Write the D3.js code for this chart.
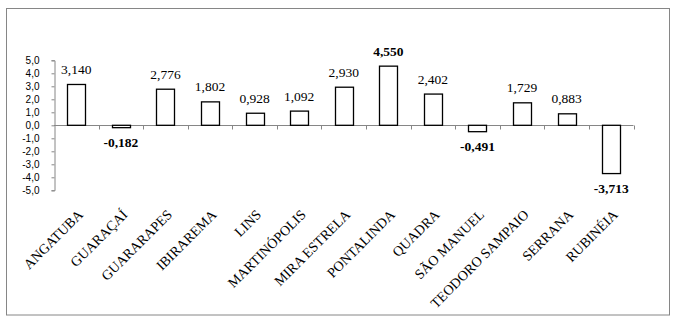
<!DOCTYPE html>
<html>
<head>
<meta charset="utf-8">
<script src="https://cdn.jsdelivr.net/npm/d3@7"></script>
<style>
  html, body { margin: 0; padding: 0; background: #fff; }
  svg { display: block; }
</style>
</head>
<body>
<script>
const categories = ["ANGATUBA","GUARAÇAÍ","GUARARAPES","IBIRAREMA","LINS","MARTINÓPOLIS","MIRA ESTRELA","PONTALINDA","QUADRA","SÃO MANUEL","TEODORO SAMPAIO","SERRANA","RUBINÉIA"];
const values = [3.140, -0.182, 2.776, 1.802, 0.928, 1.092, 2.930, 4.550, 2.402, -0.491, 1.729, 0.883, -3.713];
const yTicks = [5, 4, 3, 2, 1, 0, -1, -2, -3, -4, -5];

const W = 678, H = 325;
const svg = d3.select("body").append("svg").attr("width", W).attr("height", H);

// outer frame
svg.append("rect").attr("x", 6.5).attr("y", 8.5).attr("width", 663).attr("height", 306.5)
  .attr("fill", "none").attr("stroke", "#868686").attr("stroke-width", 1);

const x = d3.scaleBand().domain(categories).range([54, 633.5]).paddingInner(0.596).paddingOuter(0.298);
const y = d3.scaleLinear().domain([-5, 5]).range([190.3, 60.3]);
const fmt = v => d3.format(".1f")(v).replace(".", ",").replace("−", "-");
const fmt3 = v => d3.format(".3f")(v).replace(".", ",").replace("−", "-");
const axisColor = "#868686";

// y axis
const yAxis = d3.axisLeft(y).tickValues(yTicks).tickSize(3).tickFormat(fmt);
const gy = svg.append("g").attr("transform", "translate(54.5,0)").call(yAxis);
gy.select(".domain").attr("stroke", axisColor);
gy.selectAll(".tick line").attr("stroke", axisColor);
gy.selectAll(".tick text").attr("x", -15).attr("fill", "#000")
  .style("font-family", "'Liberation Sans', Arial, sans-serif").style("font-size", "10px");

// x axis line at zero
const y0 = Math.round(y(0)) + 0.5;
const step = x.step();
const xr = x.range();
svg.append("line").attr("x1", xr[0]).attr("x2", xr[1]).attr("y1", y0).attr("y2", y0)
  .attr("stroke", axisColor);
svg.append("g").selectAll("line").data(d3.range(1, categories.length + 1)).join("line")
  .attr("x1", i => Math.round(xr[0] + i * step) + 0.5)
  .attr("x2", i => Math.round(xr[0] + i * step) + 0.5)
  .attr("y1", y0).attr("y2", y0 + 4)
  .attr("stroke", axisColor);

// bars
const vmax = d3.max(values);
svg.append("g").selectAll("rect").data(values).join("rect")
  .attr("x", (d, i) => Math.round(x(categories[i])) + 0.5)
  .attr("width", Math.round(x.bandwidth()))
  .attr("y", d => Math.min(y(d), y(0)))
  .attr("height", d => Math.abs(y(d) - y(0)))
  .attr("fill", "#fff").attr("stroke", "#000").attr("stroke-width", 1.3);

// value labels
svg.append("g").selectAll("text").data(values).join("text")
  .attr("x", (d, i) => x(categories[i]) + x.bandwidth() / 2)
  .attr("y", d => d >= 0 ? y(d) - 10.5 : y(d) + 19.5)
  .attr("text-anchor", "middle")
  .style("font-family", "'Liberation Serif', 'Times New Roman', serif")
  .style("font-size", "13.5px")
  .style("font-weight", d => (d < 0 || d === vmax) ? "bold" : "normal")
  .text(d => fmt3(d));

// category labels
svg.append("g").selectAll("text").data(categories).join("text")
  .attr("transform", d => `translate(${x(d) + x.bandwidth() / 2 + 7.5},215.5) rotate(-45)`)
  .attr("text-anchor", "end")
  .style("font-family", "'Liberation Serif', 'Times New Roman', serif")
  .style("font-size", "14px")
  .text(d => d);
</script>
</body>
</html>
